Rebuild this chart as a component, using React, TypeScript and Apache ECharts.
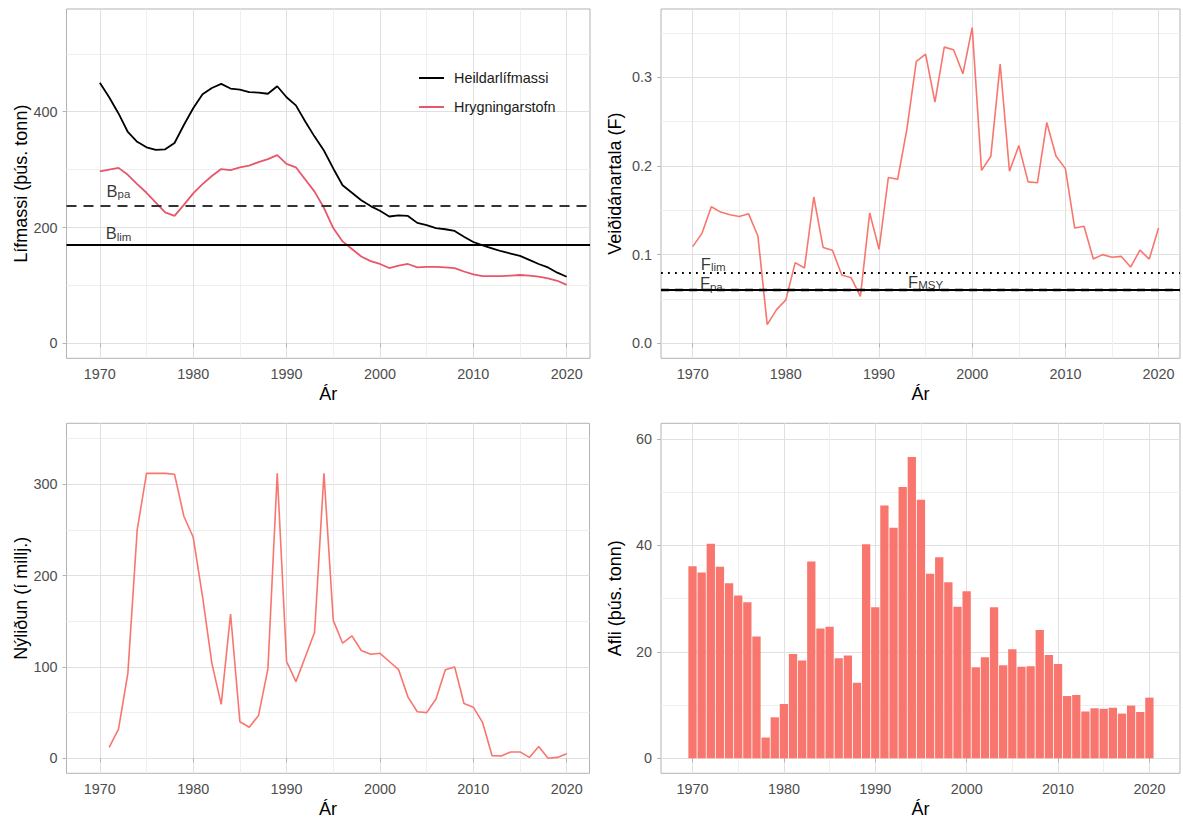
import React, { useEffect, useRef } from 'react';
import * as echarts from 'echarts';

const FONT = '"Liberation Sans", Arial, Helvetica, sans-serif';

const years = [
  1970, 1971, 1972, 1973, 1974, 1975, 1976, 1977, 1978, 1979,
  1980, 1981, 1982, 1983, 1984, 1985, 1986, 1987, 1988, 1989,
  1990, 1991, 1992, 1993, 1994, 1995, 1996, 1997, 1998, 1999,
  2000, 2001, 2002, 2003, 2004, 2005, 2006, 2007, 2008, 2009,
  2010, 2011, 2012, 2013, 2014, 2015, 2016, 2017, 2018, 2019, 2020,
];

const totalBiomass = [
  450, 425, 397, 365, 348, 338.5, 334, 335, 346, 377,
  406, 430, 441, 448, 440, 438, 434, 433, 431, 444,
  425, 411, 383, 357, 333, 302, 273, 260, 247, 237,
  229, 219, 221, 220, 208, 204, 199, 197, 194, 184,
  175, 169, 164, 159, 155, 151, 144, 137, 131, 122, 115,
];

const spawningStock = [
  297, 300, 303, 291, 275, 260, 243, 226, 220, 239,
  259, 275, 289, 301, 299, 304, 307, 313, 318, 325,
  310, 304, 283, 262, 234, 199, 176, 163, 150, 142,
  137, 130, 134, 137, 131, 132, 132, 131, 130, 124,
  119, 116, 116, 116, 117, 118, 117, 115, 112, 108, 101,
];

const fishingMortality = [
  0.109, 0.124, 0.154, 0.148, 0.145, 0.143, 0.146, 0.121, 0.021, 0.038,
  0.049, 0.091, 0.085, 0.165, 0.108, 0.105, 0.077, 0.074, 0.053, 0.147,
  0.106, 0.187, 0.185, 0.242, 0.318, 0.326, 0.272, 0.334, 0.331, 0.304,
  0.356, 0.195, 0.211, 0.315, 0.194, 0.223, 0.182, 0.181, 0.249, 0.211,
  0.197, 0.130, 0.132, 0.095, 0.100, 0.097, 0.098, 0.086, 0.105, 0.095, 0.130,
];

const recruitment = [
  null, 12, 32, 93, 250, 312, 312, 312, 311, 265,
  242, 177, 104, 59, 158, 40, 34, 47, 98, 312,
  106, 84, 111, 138, 312, 151, 126, 134, 118, 114,
  115, 106, 97, 67, 51, 50, 65, 97, 100, 60,
  56, 39, 3, 2.5, 7, 7, 1, 13, 0, 1, 5,
];

const catchValues = [
  36.1, 34.9, 40.3, 36.0, 32.9, 30.6, 29.3, 22.9, 3.9, 7.7,
  10.2, 19.6, 18.4, 37.0, 24.4, 24.7, 18.8, 19.3, 14.2, 40.2,
  28.4, 47.5, 43.3, 51.0, 56.6, 48.6, 34.7, 37.8, 33.1, 28.5,
  31.4, 17.1, 19.0, 28.4, 17.5, 20.5, 17.2, 17.3, 24.1, 19.4,
  17.7, 11.7, 11.9, 8.8, 9.4, 9.3, 9.5, 8.4, 9.9, 8.7, 11.4,
];

const xTicks = [1970, 1980, 1990, 2000, 2010, 2020];
const biomassTicks = [0, 200, 400];
const fTicks = [0, 0.1, 0.2, 0.3];
const recTicks = [0, 100, 200, 300];
const catchTicks = [0, 20, 40, 60];

const Bpa = 237;
const Blim = 170;
const Flim = 0.08;
const Fpa = 0.0605;
const Fmsy = 0.058;

const pairs = (vals: (number | null)[]) => years.map((y, i) => [y, vals[i]]);

const isTick = (v: number, list: number[]) => list.some((t) => Math.abs(t - v) < 1e-9);

const tickStyle = { show: true, length: 4, lineStyle: { color: '#b3b3b3', width: 1 } };
const labelStyle = { color: '#4d4d4d', fontSize: 14.4, fontFamily: FONT };
const nameStyle = { color: '#000', fontSize: 18, fontFamily: FONT };

function xAxis(gridIndex: number, min: number, max: number) {
  return {
    type: 'value',
    gridIndex,
    min,
    max,
    splitNumber: 5,
    name: 'Ár',
    nameLocation: 'middle',
    nameGap: 27,
    nameTextStyle: nameStyle,
    axisLine: { show: false },
    axisTick: { ...tickStyle, customValues: xTicks },
    axisLabel: {
      ...labelStyle,
      margin: 9,
      formatter: (v: number) => (isTick(v, xTicks) ? String(Math.round(v)) : ''),
    },
    splitLine: { show: true, lineStyle: { color: '#e0e0e0', width: 1 } },
    minorTick: { show: false, splitNumber: 2 },
    minorSplitLine: { show: true, lineStyle: { color: '#efefef', width: 1 } },
  };
}

function yAxis(
  gridIndex: number,
  min: number,
  max: number,
  splitNumber: number,
  name: string,
  ticks: number[],
  fmt: (v: number) => string
) {
  return {
    type: 'value',
    gridIndex,
    min,
    max,
    splitNumber,
    name,
    nameLocation: 'middle',
    nameGap: 37,
    nameRotate: 90,
    nameTextStyle: nameStyle,
    axisLine: { show: false },
    axisTick: { ...tickStyle, customValues: ticks },
    axisLabel: {
      ...labelStyle,
      margin: 9,
      formatter: (v: number) => (isTick(v, ticks) ? fmt(v) : ''),
    },
    splitLine: { show: true, lineStyle: { color: '#e0e0e0', width: 1 } },
    minorTick: { show: false, splitNumber: 2 },
    minorSplitLine: { show: true, lineStyle: { color: '#efefef', width: 1 } },
  };
}

const rich = {
  m: { fontSize: 16.5, fontFamily: FONT, color: '#000', lineHeight: 18, verticalAlign: 'top' },
  s: { fontSize: 11.5, fontFamily: FONT, color: '#000', lineHeight: 12, padding: [6, 0, 0, 0], verticalAlign: 'top' },
};

function annotation(gridIndex: number, items: { at: number[]; main: string; sub: string }[]) {
  return {
    type: 'scatter',
    xAxisIndex: gridIndex,
    yAxisIndex: gridIndex,
    symbolSize: 1,
    silent: true,
    z: 5,
    itemStyle: { color: 'rgba(0,0,0,0)' },
    label: { show: true, position: 'inside', color: '#000', textBorderWidth: 0, rich },
    data: items.map((it) => ({
      value: it.at,
      label: { formatter: `{m|${it.main}}{s|${it.sub}}` },
    })),
  };
}

function hLine(value: number, color: string, width: number, type: any) {
  return { yAxis: value, lineStyle: { color, width, type } };
}

const gridStyle = { show: true, borderColor: '#b3b3b3', borderWidth: 1, backgroundColor: 'transparent' };

const option = {
  animation: false,
  backgroundColor: '#ffffff',
  textStyle: { fontFamily: FONT },
  grid: [
    { left: 66.5, top: 9, width: 523.5, height: 349.3, ...gridStyle },
    { left: 661, top: 9, width: 521, height: 349.3, ...gridStyle },
    { left: 66.5, top: 423.3, width: 523, height: 350, ...gridStyle },
    { left: 661, top: 423.3, width: 521, height: 350, ...gridStyle },
  ],
  xAxis: [
    xAxis(0, 1966.43, 2022.5),
    xAxis(1, 1966.6, 2022.3),
    xAxis(2, 1966.43, 2022.44),
    xAxis(3, 1966.55, 2023.35),
  ],
  yAxis: [
    yAxis(0, -25.9, 577.4, 3, 'Lífmassi (þús. tonn)', biomassTicks, (v) => String(v)),
    yAxis(1, -0.0169, 0.377, 4, 'Veiðidánartala (F)', fTicks, (v) => v.toFixed(1)),
    yAxis(2, -16.4, 366.8, 4, 'Nýliðun (í millj.)', recTicks, (v) => String(v)),
    yAxis(3, -2.82, 62.95, 3, 'Afli (þús. tonn)', catchTicks, (v) => String(v)),
  ],
  legend: {
    data: ['Heildarlífmassi', 'Hrygningarstofn'],
    orient: 'vertical',
    left: 413,
    top: 66,
    padding: 5,
    itemWidth: 25,
    itemHeight: 14,
    itemGap: 15,
    selectedMode: false,
    itemStyle: { opacity: 0 },
    textStyle: { fontSize: 14.4, fontFamily: FONT, color: '#1a1a1a', padding: [0, 0, 0, 5] },
  },
  series: [
    {
      name: 'Heildarlífmassi',
      type: 'line',
      xAxisIndex: 0,
      yAxisIndex: 0,
      symbol: 'none',
      z: 3,
      lineStyle: { color: '#000000', width: 1.8 },
      itemStyle: { color: '#000000' },
      data: pairs(totalBiomass),
      markLine: {
        silent: true,
        symbol: ['none', 'none'],
        label: { show: false },
        data: [hLine(Bpa, '#333333', 2, [10, 7]), hLine(Blim, '#000000', 1.8, 'solid')],
      },
    },
    {
      name: 'Hrygningarstofn',
      type: 'line',
      xAxisIndex: 0,
      yAxisIndex: 0,
      symbol: 'none',
      z: 3,
      lineStyle: { color: '#E8566C', width: 1.8 },
      itemStyle: { color: '#E8566C' },
      data: pairs(spawningStock),
    },
    annotation(0, [
      { at: [1972, 263], main: 'B', sub: 'pa' },
      { at: [1972, 189], main: 'B', sub: 'lim' },
    ]),
    {
      name: 'F',
      type: 'line',
      xAxisIndex: 1,
      yAxisIndex: 1,
      symbol: 'none',
      z: 3,
      lineStyle: { color: '#F8766D', width: 1.6 },
      data: pairs(fishingMortality),
      markLine: {
        silent: true,
        symbol: ['none', 'none'],
        label: { show: false },
        data: [
          hLine(Flim, '#000000', 1.8, [1.8, 5.2]),
          hLine(Fmsy, '#000000', 2, 'solid'),
          hLine(Fpa, '#000000', 2.4, [8, 6]),
        ],
      },
    },
    annotation(1, [
      { at: [1972.2, 0.089], main: 'F', sub: 'lim' },
      { at: [1972.0, 0.067], main: 'F', sub: 'pa' },
      { at: [1995.0, 0.069], main: 'F', sub: 'MSY' },
    ]),
    {
      name: 'Nýliðun',
      type: 'line',
      xAxisIndex: 2,
      yAxisIndex: 2,
      symbol: 'none',
      z: 3,
      connectNulls: false,
      lineStyle: { color: '#F8766D', width: 1.6 },
      data: pairs(recruitment),
    },
    {
      name: 'Afli',
      type: 'bar',
      xAxisIndex: 3,
      yAxisIndex: 3,
      barWidth: 8.3,
      z: 3,
      itemStyle: { color: '#F8766D' },
      data: pairs(catchValues),
    },
  ],
};

export default function App() {
  const ref = useRef<HTMLDivElement>(null);
  useEffect(() => {
    const chart = echarts.init(ref.current as HTMLDivElement, undefined, { renderer: 'svg' });
    chart.setOption(option as any);
    return () => chart.dispose();
  }, []);
  return (
    <div
      ref={ref}
      style={{ position: 'fixed', left: 0, top: 0, width: 1183, height: 820, background: '#fff' }}
    />
  );
}
